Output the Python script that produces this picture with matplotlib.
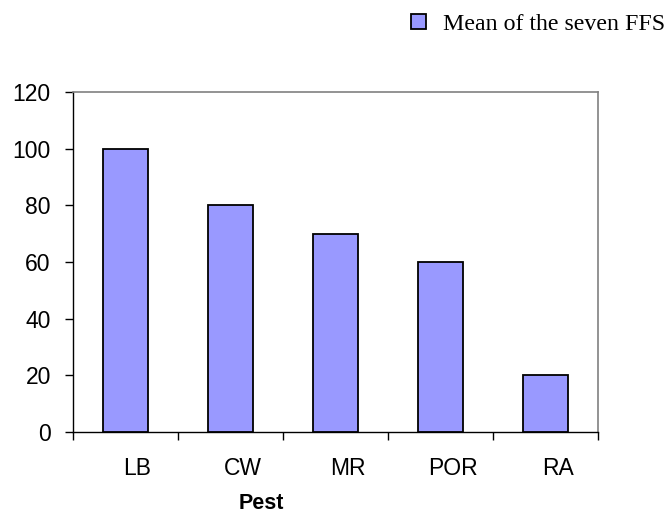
import matplotlib
matplotlib.use("Agg")
import matplotlib.pyplot as plt
import matplotlib.transforms as mtrans
from matplotlib.patches import Patch
import numpy as np

categories = ["LB", "CW", "MR", "POR", "RA"]
values = [100, 80, 70, 60, 20]
series_name = "Mean of the seven FFS"
yticks = [0, 20, 40, 60, 80, 100, 120]

fig = plt.figure(figsize=(6.68, 5.15), dpi=100)
ax = fig.add_axes([73/668, 1 - 432/515, 525/668, 340/515])

pos = np.arange(len(categories)) + 0.5
ax.bar(pos, values, width=0.42, color="#9999FF", edgecolor="black", linewidth=1.3, zorder=3)

ax.set_xlim(0, len(categories))
ax.set_ylim(0, 120)
ax.set_yticks(yticks)
ax.set_yticklabels([str(v) for v in yticks], fontfamily="Liberation Sans", fontsize=16.5)

ax.set_xticks(np.arange(len(categories) + 1))
ax.set_xticklabels([])
ax.set_xticks(pos, minor=True)
ax.set_xticklabels(categories, minor=True, fontfamily="Liberation Sans", fontsize=16.5)
ax.tick_params(axis="x", which="minor", length=0, pad=18)
ax.tick_params(axis="x", which="major", length=6, width=1, direction="out")
ax.tick_params(axis="y", length=6, width=1, direction="out", pad=10)

off = mtrans.ScaledTranslation(12/100, 0, fig.dpi_scale_trans)
for lab in ax.xaxis.get_minorticklabels():
    lab.set_transform(lab.get_transform() + off)

for s in ["top", "right"]:
    ax.spines[s].set_color("#808080")
    ax.spines[s].set_linewidth(1.2)
for s in ["left", "bottom"]:
    ax.spines[s].set_color("black")
    ax.spines[s].set_linewidth(1.0)

ax.set_xlabel("Pest", fontfamily="Liberation Sans", fontsize=15.5, fontweight="bold")
ax.xaxis.set_label_coords(0.358, -0.178)

handle = Patch(facecolor="#9999FF", edgecolor="black", linewidth=1.3)
fig.legend([handle], [series_name], loc="upper right", bbox_to_anchor=(1.0, 0.978),
           frameon=False, prop={"family": "Liberation Serif", "size": 17.2},
           handlelength=0.6, handleheight=0.6, handletextpad=0.75, borderpad=0.1,
           borderaxespad=0.0)

fig.savefig("out.png", dpi=100)
